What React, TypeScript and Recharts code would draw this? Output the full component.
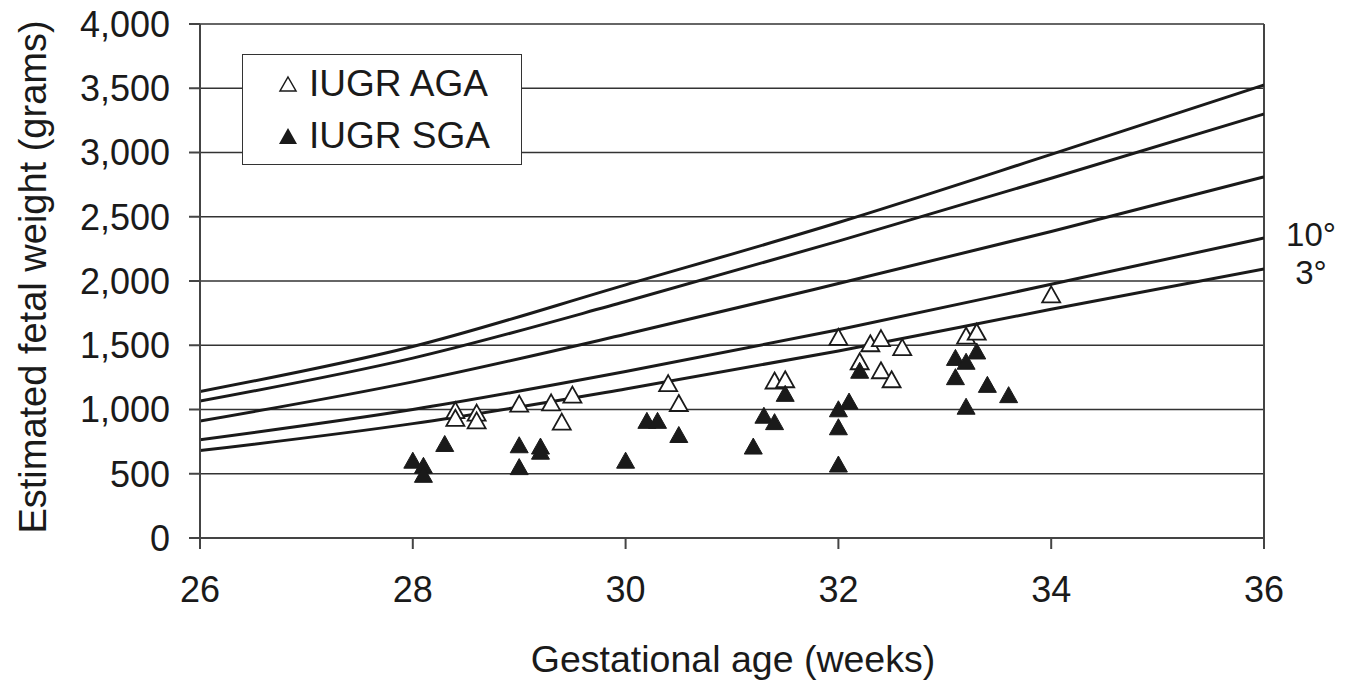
import React from 'react';
import {
  ComposedChart, Line, Scatter, XAxis, YAxis, CartesianGrid, ReferenceLine, Label,
} from 'recharts';

// reference curves (grams) at each gestational week
const curveWeeks = [26, 28, 30, 32, 34, 36];
const curveP97 = [1140, 1490, 1970, 2455, 2985, 3525];
const curveP90 = [1065, 1400, 1840, 2310, 2800, 3300];
const curveP50 = [910, 1215, 1585, 1980, 2385, 2810];
const curveP10 = [765, 1000, 1295, 1620, 1975, 2335];
const curveP3 = [680, 890, 1160, 1455, 1780, 2093];

// IUGR AGA (open triangles)
const agaWeeks = [28.4, 28.4, 28.6, 28.6, 29.0, 29.3, 29.4, 29.5, 30.4, 30.5, 31.4, 31.5, 32.0, 32.2, 32.3, 32.4, 32.4, 32.5, 32.6, 33.2, 33.3, 34.0];
const agaWeights = [980, 920, 960, 900, 1030, 1040, 890, 1100, 1190, 1035, 1210, 1220, 1550, 1360, 1500, 1540, 1290, 1220, 1470, 1560, 1590, 1880];

// IUGR SGA (filled triangles)
const sgaWeeks = [28.0, 28.1, 28.1, 28.3, 29.0, 29.0, 29.2, 29.2, 30.0, 30.2, 30.3, 30.5, 31.2, 31.3, 31.4, 31.5, 32.0, 32.0, 32.0, 32.1, 32.2, 33.1, 33.1, 33.2, 33.2, 33.3, 33.4, 33.6];
const sgaWeights = [590, 550, 480, 720, 710, 540, 700, 660, 590, 900, 900, 790, 700, 940, 890, 1110, 990, 850, 560, 1050, 1290, 1390, 1240, 1360, 1010, 1440, 1180, 1100];

const xTicks = [26, 28, 30, 32, 34, 36];
const yTicks = [0, 500, 1000, 1500, 2000, 2500, 3000, 3500, 4000];

const FONT = '"Liberation Sans", Arial, sans-serif';
const INK = '#1a1a1a';

const toCurve = (vals: number[]) => curveWeeks.map((week, i) => ({ week, value: vals[i] }));
const aga = agaWeeks.map((week, i) => ({ week, value: agaWeights[i] }));
const sga = sgaWeeks.map((week, i) => ({ week, value: sgaWeights[i] }));

const triPoints = (cx: number, cy: number) =>
  `${cx},${cy - 10} ${cx + 9},${cy + 6} ${cx - 9},${cy + 6}`;

const OpenTri = (props: any) => (
  <polygon points={triPoints(props.cx, props.cy)} fill="#fff" stroke={INK} strokeWidth={1.8} />
);
const FilledTri = (props: any) => (
  <polygon points={triPoints(props.cx, props.cy)} fill={INK} stroke={INK} strokeWidth={1} />
);

// percentile tag at the right end of a curve
const endLabel = (text: string, dy: number) => (props: any) => {
  if (props.index !== curveWeeks.length - 1) return null;
  return (
    <text x={props.x + 47} y={props.y + dy} textAnchor="middle" fontSize={33} fontFamily={FONT} fill={INK}>
      {text}
    </text>
  );
};

// legend drawn as an overlay box, like the original
const LegendBox = () => (
  <div style={{
    position: 'absolute', left: 242, top: 54,
    width: 280, height: 111, border: '1.5px solid #333', background: '#fff', boxSizing: 'border-box',
    fontFamily: FONT, fontSize: 37, color: INK, paddingLeft: 34, paddingTop: 3,
  }}>
    <div style={{ display: 'flex', alignItems: 'center', height: 52 }}>
      <svg width={22} height={20} style={{ marginRight: 10 }}>
        <polygon points="11,3 19,17 3,17" fill="#fff" stroke={INK} strokeWidth={1.5} />
      </svg>
      IUGR AGA
    </div>
    <div style={{ display: 'flex', alignItems: 'center', height: 52 }}>
      <svg width={22} height={20} style={{ marginRight: 10 }}>
        <polygon points="11,2 20,18 2,18" fill={INK} />
      </svg>
      IUGR SGA
    </div>
  </div>
);

export default function App() {
  const tickStyle = { fontSize: 36, fontFamily: FONT, fill: INK };
  return (
    <div style={{ position: 'absolute', left: 0, top: 0, width: 1355, height: 682, background: '#fff' }}>
      <ComposedChart width={1355} height={682} margin={{ top: 24, right: 91, bottom: 0, left: 0 }}>
        <CartesianGrid vertical={false} stroke="#333" strokeWidth={1.5} />
        <XAxis
          dataKey="week" type="number" domain={[26, 36]} ticks={xTicks} allowDataOverflow
          height={144} tick={tickStyle} tickSize={11} tickMargin={27}
          axisLine={{ stroke: '#444', strokeWidth: 2 }} tickLine={{ stroke: '#444', strokeWidth: 2 }}
        >
          <Label
            content={() => (
              <text x={733} y={672} textAnchor="middle" fontSize={37.5} fontFamily={FONT} fill={INK}>
                Gestational age (weeks)
              </text>
            )}
          />
        </XAxis>
        <YAxis
          dataKey="value" type="number" domain={[0, 4000]} ticks={yTicks} allowDataOverflow
          width={200} tick={tickStyle} tickSize={11} tickMargin={19}
          tickFormatter={(v: number) => v.toLocaleString('en-US')}
          axisLine={{ stroke: '#444', strokeWidth: 2 }} tickLine={{ stroke: '#444', strokeWidth: 2 }}
        >
          <Label
            content={() => (
              <text
                x={46} y={277} transform="rotate(-90 46 277)" textAnchor="middle"
                fontSize={38} fontFamily={FONT} fill={INK}
              >
                Estimated fetal weight (grams)
              </text>
            )}
          />
        </YAxis>
        <ReferenceLine x={36} stroke="#444" strokeWidth={2} />
        <Line data={toCurve(curveP97)} dataKey="value" type="monotone" stroke={INK} strokeWidth={3} dot={false} isAnimationActive={false} />
        <Line data={toCurve(curveP90)} dataKey="value" type="monotone" stroke={INK} strokeWidth={3} dot={false} isAnimationActive={false} />
        <Line data={toCurve(curveP50)} dataKey="value" type="monotone" stroke={INK} strokeWidth={3} dot={false} isAnimationActive={false} />
        <Line data={toCurve(curveP10)} dataKey="value" type="monotone" stroke={INK} strokeWidth={3} dot={false} isAnimationActive={false} label={endLabel('10°', 8)} />
        <Line data={toCurve(curveP3)} dataKey="value" type="monotone" stroke={INK} strokeWidth={3} dot={false} isAnimationActive={false} label={endLabel('3°', 15)} />
        <Scatter name="IUGR AGA" data={aga} dataKey="value" shape={OpenTri} isAnimationActive={false} />
        <Scatter name="IUGR SGA" data={sga} dataKey="value" shape={FilledTri} isAnimationActive={false} />
      </ComposedChart>
      <LegendBox />
    </div>
  );
}
